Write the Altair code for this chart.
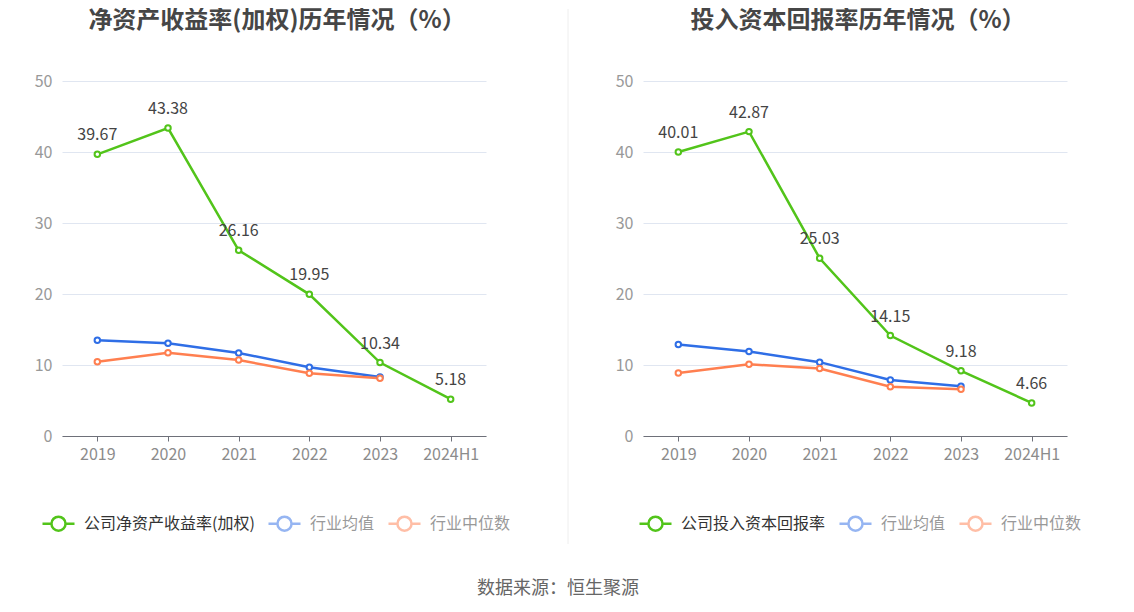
import altair as alt
import pandas as pd

years = ["2019", "2020", "2021", "2022", "2023", "2024H1"]
roe_name = "公司净资产收益率(加权)"
roe_company = [39.67, 43.38, 26.16, 19.95, 10.34, 5.18]
roe_avg = [13.50, 13.05, 11.70, 9.67, 8.30]
roe_median = [10.47, 11.73, 10.70, 8.83, 8.12]
roic_name = "公司投入资本回报率"
roic_company = [40.01, 42.87, 25.03, 14.15, 9.18, 4.66]
roic_avg = [12.90, 11.90, 10.40, 7.90, 7.00]
roic_median = [8.87, 10.10, 9.50, 6.95, 6.58]
avg_name = "行业均值"
median_name = "行业中位数"
titles = ["净资产收益率(加权)历年情况（%）", "投入资本回报率历年情况（%）"]
source = "数据来源：恒生聚源"
y_ticks = [0, 10, 20, 30, 40, 50]

GREEN, BLUE, ORANGE = "#52c41a", "#2f6ee6", "#ff7f50"
FONT = "Noto Sans CJK SC"
W, H = 424, 355
LEG_SYMBOL = ("M-1,0L-0.44,0M0.44,0L1,0M-0.44,0"
              "A0.44,0.44,0,1,1,0.44,0A0.44,0.44,0,1,1,-0.44,0Z")


def make_df(name, comp, avg, med):
    rows = []
    for y, v in zip(years, comp):
        rows.append({"year": y, "value": v, "series": name})
    for y, v in zip(years, avg):
        rows.append({"year": y, "value": v, "series": avg_name})
    for y, v in zip(years, med):
        rows.append({"year": y, "value": v, "series": median_name})
    return pd.DataFrame(rows)


def panel(title, name, comp, avg, med, show_divider, legend_x):
    df = make_df(name, comp, avg, med)
    domain = [name, avg_name, median_name]
    color = alt.Color(
        "series:N",
        scale=alt.Scale(domain=domain, range=[GREEN, BLUE, ORANGE]),
        legend=alt.Legend(
            title=None, orient="none", direction="horizontal",
            legendX=legend_x, legendY=425,
            symbolType=LEG_SYMBOL, symbolSize=1024, symbolStrokeWidth=2.5,
            symbolFillColor="white",
            symbolOpacity=alt.ExprRef("datum.index == 0 ? 1 : 0.5"),
            labelColor=alt.ExprRef("datum.index == 0 ? '#333333' : '#999999'"),
            labelFontSize=16, labelFont=FONT, labelOffset=8, columnPadding=8,
            labelLimit=400,
        ),
    )
    x = alt.X("year:N", sort=years, scale=alt.Scale(type="point", padding=0.5),
              axis=alt.Axis(title=None, labelAngle=0, grid=False,
                            domainColor="#6e7079", tickColor="#6e7079",
                            tickSize=5, labelPadding=5, labelColor="#8c8c8c",
                            labelFontSize=16, labelFont=FONT))
    y = alt.Y("value:Q", scale=alt.Scale(domain=[0, 50]),
              axis=alt.Axis(title=None, values=y_ticks, domain=False, ticks=False,
                            gridColor="#e0e6f1", labelColor="#999999",
                            labelFontSize=16, labelFont=FONT, labelPadding=10))
    base = alt.Chart(df).encode(x=x, y=y)
    line = base.mark_line(strokeWidth=2.5).encode(color=color)
    pts = base.mark_point(filled=False, fill="white", size=30, strokeWidth=2,
                          opacity=1).encode(color=color)
    labels = base.transform_filter(alt.datum.series == name).mark_text(
        dy=-19, fontSize=16, color="#444444", font=FONT
    ).encode(text=alt.Text("value:Q", format=".2f"))
    rule = alt.Chart(pd.DataFrame({"k": [0]})).mark_rule(
        color="#eeeeee", strokeWidth=1, opacity=1 if show_divider else 0
    ).encode(x=alt.value(W + 82 if show_divider else 0), y=alt.value(-72),
             y2=alt.value(463))
    return alt.layer(line, pts, labels, rule).properties(
        width=W, height=H,
        title=alt.TitleParams(title, fontSize=24, fontWeight="bold",
                              color="#464646", font=FONT, anchor="middle",
                              frame="group", dx=3, offset=-24),
    )


left = panel(titles[0], roe_name, roe_company, roe_avg, roe_median, True, -21)
right = panel(titles[1], roic_name, roic_company, roic_avg, roic_median, False, -5)

chart = alt.hconcat(left, right, spacing=46).resolve_scale(
    color="independent").resolve_legend(color="independent").properties(
    padding={"left": 26, "top": 0, "right": 5, "bottom": 5},
    title=alt.TitleParams(source, orient="bottom", anchor="middle",
                          fontSize=18, color="#666666", fontWeight="normal",
                          font=FONT, offset=35),
).configure_view(stroke=None)

chart.save("out.html", embed_options={"renderer": "svg", "actions": False})
